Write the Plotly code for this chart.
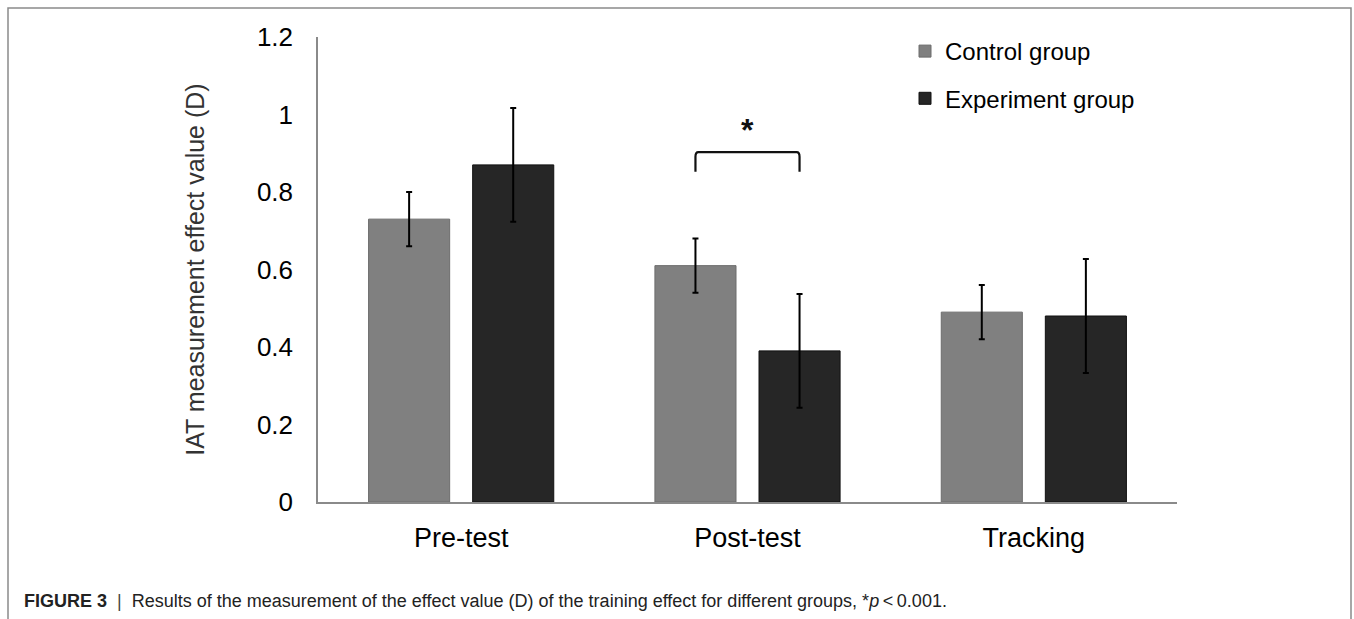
import plotly.graph_objects as go

# Effect value (D) of IAT measurement by test phase and group
phases = ["Pre-test", "Post-test", "Tracking"]
control_mean = [0.73, 0.61, 0.49]
control_err = [0.07, 0.07, 0.07]
experiment_mean = [0.87, 0.39, 0.48]
experiment_err = [0.147, 0.147, 0.147]
y_ticks = [0, 0.2, 0.4, 0.6, 0.8, 1, 1.2]
y_tick_text = ["0", "0.2", "0.4", "0.6", "0.8", "1", "1.2"]

W, H = 1354, 619
L, R, T, B = 318, 177, 37, 117
BARGAP = 0.273
GROUPGAP = 0.221

FONT = "Liberation Sans, Arial, sans-serif"


def px_x(p):
    return (p - L) / (W - L - R)


def px_y(p):
    return (H - B - p) / (H - T - B)


x_pos = list(range(len(phases)))

fig = go.Figure()
fig.add_trace(go.Bar(
    name="Control group", x=x_pos, y=control_mean,
    marker=dict(color="#808080", line=dict(color="#6c6c6c", width=1)),
    error_y=dict(type="data", array=control_err, color="#000000",
                 thickness=2, width=3),
    legendgroup="c",
))
fig.add_trace(go.Bar(
    name="Experiment group", x=x_pos, y=experiment_mean,
    marker=dict(color="#262626", line=dict(color="#111111", width=1)),
    error_y=dict(type="data", array=experiment_err, color="#000000",
                 thickness=2, width=3),
    legendgroup="e",
))

# significance bracket between the two Post-test bars
slot = (1 - BARGAP) / 2
left_c = 1 - slot / 2
right_c = 1 + slot / 2
y_top, y_leg = 0.903, 0.852
r = 0.012
fig.add_shape(
    type="path", xref="x", yref="y",
    path=(f"M {left_c},{y_leg} L {left_c},{y_top - r} "
          f"Q {left_c},{y_top} {left_c + 0.01},{y_top} "
          f"L {right_c - 0.01},{y_top} "
          f"Q {right_c},{y_top} {right_c},{y_top - r} L {right_c},{y_leg}"),
    line=dict(color="#111111", width=2.2),
)
fig.add_annotation(
    x=1, y=0.96, xref="x", yref="y", text="<b>*</b>", showarrow=False,
    font=dict(family=FONT, size=32, color="#111111"),
)

# outer frame, open at the bottom
fl, fr, ft, fb = px_x(8), px_x(1351), px_y(8), px_y(640)
fig.add_shape(
    type="path", xref="paper", yref="paper",
    path=f"M {fl},{fb} L {fl},{ft} L {fr},{ft} L {fr},{fb}",
    line=dict(color="#8a8a8a", width=1.5),
)

# caption
fig.add_annotation(
    x=px_x(22), y=px_y(601), xref="paper", yref="paper",
    xanchor="left", yanchor="middle", showarrow=False,
    text=("<b>FIGURE 3</b>  <span style='color:#444'>|</span>  Results of the "
          "measurement of the effect value (D) of the training effect for "
          "different groups, *<i>p</i>\u2009<\u20090.001."),
    font=dict(family=FONT, size=18, color="#222222"),
)

fig.update_layout(
    width=W, height=H,
    margin=dict(l=L, r=R, t=T, b=B, pad=0),
    paper_bgcolor="white", plot_bgcolor="white",
    barmode="group", bargap=BARGAP, bargroupgap=GROUPGAP,
    font=dict(family=FONT, color="#000000"),
    showlegend=True,
    legend=dict(
        x=px_x(905), y=px_y(29), xanchor="left", yanchor="top",
        font=dict(family=FONT, size=24, color="#000000"),
        traceorder="grouped", tracegroupgap=13,
        bgcolor="rgba(0,0,0,0)",
    ),
    xaxis=dict(
        range=[-0.5, 2.5], tickvals=x_pos, ticktext=phases,
        showline=True, linecolor="#8a8a8a", linewidth=2,
        ticks="", showgrid=False, zeroline=False,
        tickfont=dict(family=FONT, size=27, color="#000000"),
        ticklabelstandoff=11,
    ),
    yaxis=dict(
        range=[0, 1.2], tickvals=y_ticks, ticktext=y_tick_text,
        showline=True, linecolor="#8a8a8a", linewidth=1.5,
        ticks="", showgrid=False, zeroline=False,
        tickfont=dict(family=FONT, size=26, color="#000000"),
        ticklabelstandoff=18,
        title=dict(text="IAT measurement effect value (D)",
                   font=dict(family=FONT, size=25, color="#333333"),
                   standoff=45),
    ),
)

fig.write_html("out.html")
